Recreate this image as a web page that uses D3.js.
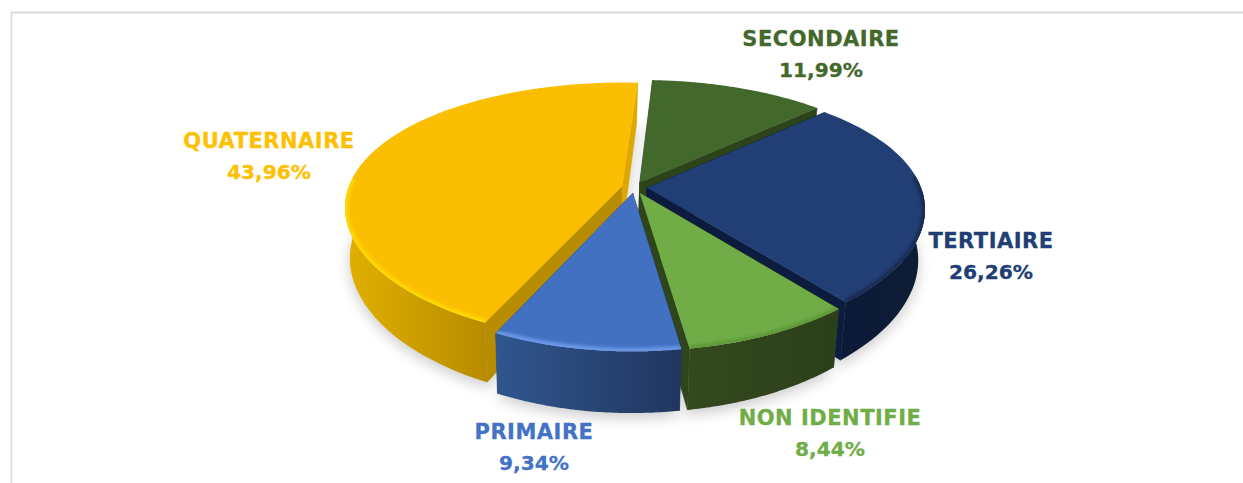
<!DOCTYPE html>
<html>
<head>
<meta charset="utf-8">
<script src="https://cdn.jsdelivr.net/npm/d3@7"></script>
<style>
  html, body { margin: 0; padding: 0; background: #fff; overflow: hidden; }
  text { font-family: "DejaVu Sans", sans-serif; font-weight: bold; text-anchor: middle; stroke-width: 0.3px; }
  .cat { font-size: 21px; letter-spacing: 0.5px; }
  .val { font-size: 20.2px; }
</style>
</head>
<body>
<div id="chart"></div>
<script>
// values, clockwise from the top
const categories = ['SECONDAIRE', 'TERTIAIRE', 'NON IDENTIFIE', 'PRIMAIRE', 'QUATERNAIRE'];
const values = [11.99, 26.26, 8.44, 9.34, 43.96];
const valueLabels = ['11,99%', '26,26%', '8,44%', '9,34%', '43,96%'];

const topColors = ['#43682B', '#223F75', '#70AD47', '#4371C2', '#FBBE00'];
const textColors = ['#43682B', '#223F75', '#70AD47', '#4472C4', '#FFC000'];
const startWallColors = ['#2D441B', '#0B1C3F', '#2F451C', '#20365F', '#B88C00'];
const endWallColors = ['#2D441B', '#0B1C3F', '#2F451C', '#2D4F8A', '#DCA800'];
const outerWallLeft = ['#2D441B', '#0C1A38', '#34491E', '#30568F', '#E2B000'];
const outerWallRight = ['#2D441B', '#0E1C36', '#2B3F1A', '#20365F', '#B88C00'];
const rimColors = ['#43682B', '#172B52', '#5F9A3A', '#6A98E6', '#FFD800'];
const labelPos = [[821, 46], [991, 248], [830, 425], [534, 439], [269, 148]];

const W = 1243, H = 483;
const cx = 634.5, cy = 187.5;      // where the pie centre lands on screen
const R = 274, explode = 12.5;
const perspX = 0.16, perspY = 0.197, tilt = 124.5;
const depth = 49, shrink = 0.98;
const firstAngle = 3.3 * Math.PI / 180;

const svg = d3.select('#chart').append('svg').attr('width', W).attr('height', H);
const defs = svg.append('defs');
defs.append('filter').attr('id', 'soft').attr('x', '-20%').attr('y', '-20%').attr('width', '140%').attr('height', '140%')
  .append('feGaussianBlur').attr('stdDeviation', 7);
defs.append('filter').attr('id', 'rimBlur').attr('x', '-10%').attr('y', '-10%').attr('width', '120%').attr('height', '120%')
  .append('feGaussianBlur').attr('stdDeviation', 1.6);

// frame
svg.append('line').attr('x1', 11.5).attr('x2', W).attr('y1', 12.5).attr('y2', 12.5).attr('stroke', '#D9D9D9').attr('stroke-width', 2);
svg.append('line').attr('x1', 11.5).attr('x2', 11.5).attr('y1', 12).attr('y2', H).attr('stroke', '#E0E0E0').attr('stroke-width', 2);

const arcs = d3.pie().sort(null).startAngle(firstAngle).endAngle(firstAngle + 2 * Math.PI)(values);

// plane coords (px right, py back) -> screen, with perspective
function project(px, py, lower) {
  const w = 1 + perspY * py;
  const sx = R * px / (1 + perspX * py), sy = -tilt * py / w;
  if (!lower) return [cx + sx, cy + sy];
  return [cx - 1 + sx * shrink, cy + sy + depth / w];
}

const line = d3.line();
const rows = arcs.map((a, i) => {
  const mid = (a.startAngle + a.endAngle) / 2;
  const ox = explode / R * Math.sin(mid), oy = explode / R * Math.cos(mid);
  const ts = d3.range(0, 61).map(k => a.startAngle + (a.endAngle - a.startAngle) * k / 60);
  const rim = (t, lower) => project(ox + Math.sin(t), oy + Math.cos(t), lower);
  return { i, a, ox, oy, ts, rim, apex: lower => project(ox, oy, lower) };
});

// soft shadow on the ground
const shadow = svg.append('g').attr('filter', 'url(#soft)').attr('opacity', 0.2);
rows.forEach(r => {
  const pts = [r.apex(true), ...r.ts.map(t => r.rim(t, true))].map(p => [p[0], p[1] + 5]);
  shadow.append('path').attr('d', line(pts) + 'Z').attr('fill', '#000');
});

rows.forEach(r => {
  const grad = defs.append('linearGradient').attr('id', 'wall' + r.i)
    .attr('gradientUnits', 'userSpaceOnUse');
  const xs = r.ts.filter(t => Math.cos(t) < 0.2).map(t => r.rim(t, false)[0]);
  const ext = xs.length ? d3.extent(xs) : [0, W];
  grad.attr('x1', ext[0]).attr('x2', ext[1]).attr('y1', 0).attr('y2', 0);
  grad.append('stop').attr('offset', 0).attr('stop-color', outerWallLeft[r.i]);
  grad.append('stop').attr('offset', 1).attr('stop-color', outerWallRight[r.i]);
});

// back to front so the nearer slices cover the walls of the others
const drawOrder = [0, 4, 1, 2, 3];
drawOrder.forEach(i => {
  const r = rows[i];
  const g = svg.append('g');
  const s = r.ts[0], e = r.ts[r.ts.length - 1];

  // radial walls
  g.append('path').attr('fill', startWallColors[i]).attr('stroke', startWallColors[i]).attr('stroke-width', 0.6)
    .attr('d', line([r.apex(false), r.rim(s, false), r.rim(s, true), r.apex(true)]) + 'Z');
  g.append('path').attr('fill', endWallColors[i]).attr('stroke', endWallColors[i]).attr('stroke-width', 0.6)
    .attr('d', line([r.apex(false), r.rim(e, false), r.rim(e, true), r.apex(true)]) + 'Z');

  // outer wall, only the part that faces the viewer
  const frontTs = r.ts.filter(t => Math.cos(t) < 0);
  if (frontTs.length > 1) {
    const wallUp = frontTs.map(t => r.rim(t, false));
    const wallDown = frontTs.map(t => r.rim(t, true)).reverse();
    g.append('path').attr('fill', `url(#wall${i})`).attr('d', line(wallUp.concat(wallDown)) + 'Z');
  }

  // top face
  const upper = r.ts.map(t => r.rim(t, false));
  const face = line([r.apex(false), ...upper]) + 'Z';
  g.append('path').attr('fill', topColors[i]).attr('d', face);

  // lit bevel along the front of the rim, clipped to the top face
  defs.append('clipPath').attr('id', 'face' + i).append('path').attr('d', face);
  const front = r.ts.filter(t => Math.cos(t) < 0.1).map(t => r.rim(t, false));
  if (front.length > 1) {
    g.append('g').attr('clip-path', `url(#face${i})`).append('path')
      .attr('d', line(front)).attr('fill', 'none')
      .attr('stroke', rimColors[i]).attr('stroke-width', 7)
      .attr('filter', 'url(#rimBlur)');
  }
});

// labels
categories.forEach((name, i) => {
  svg.append('text').attr('class', 'cat').attr('x', labelPos[i][0]).attr('y', labelPos[i][1]).attr('fill', textColors[i]).attr('stroke', textColors[i]).text(name);
  svg.append('text').attr('class', 'val').attr('x', labelPos[i][0]).attr('y', labelPos[i][1] + 31).attr('fill', textColors[i]).attr('stroke', textColors[i]).text(valueLabels[i]);
});
</script>
</body>
</html>
